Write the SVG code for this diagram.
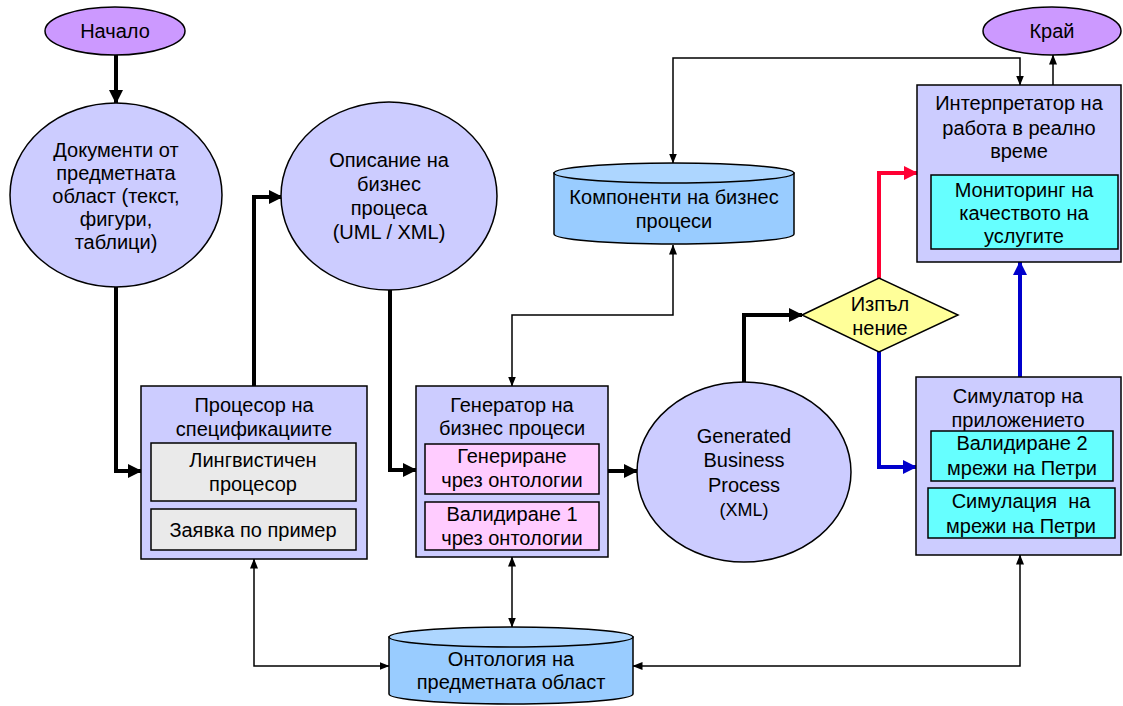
<svg xmlns="http://www.w3.org/2000/svg" width="1123" height="706" viewBox="0 0 1123 706">
<defs>
<style>
text{font-family:"Liberation Sans",Arial,sans-serif;font-size:20px;fill:#000;text-anchor:middle}
.sm{font-size:18px}
.node{stroke:#000;stroke-width:1.5}
.lav{fill:#CCCCFF}
.pur{fill:#CC99FF}
.gray{fill:#EAEAEA}
.pink{fill:#FFCCFF}
.cyan{fill:#66FFFF}
.cyl{fill:#99CCFF}
.cyltop{fill:#ADD6FF}
.dia{fill:#FFFF99}
.thick{fill:none;stroke:#000;stroke-width:4;marker-end:url(#ak)}
.red{fill:none;stroke:#FF0033;stroke-width:4;marker-end:url(#ar)}
.blue{fill:none;stroke:#0000CC;stroke-width:4;marker-end:url(#ab)}
.thin{fill:none;stroke:#000;stroke-width:1.5;marker-end:url(#at)}
.both{marker-start:url(#at)}
</style>
<marker id="ak" markerUnits="userSpaceOnUse" markerWidth="14" markerHeight="14" refX="13" refY="7" orient="auto"><path d="M0,0 L14,7 L0,14 Z" fill="#000"/></marker>
<marker id="ar" markerUnits="userSpaceOnUse" markerWidth="14" markerHeight="14" refX="13" refY="7" orient="auto"><path d="M0,0 L14,7 L0,14 Z" fill="#FF0033"/></marker>
<marker id="ab" markerUnits="userSpaceOnUse" markerWidth="14" markerHeight="14" refX="13" refY="7" orient="auto"><path d="M0,0 L14,7 L0,14 Z" fill="#0000CC"/></marker>
<marker id="at" markerUnits="userSpaceOnUse" markerWidth="10" markerHeight="8" refX="9.5" refY="4" orient="auto-start-reverse"><path d="M0,0 L10,4 L0,8 Z" fill="#000"/></marker>
</defs>
<rect width="1123" height="706" fill="#fff"/>

<g id="connectors">
<path class="thick" d="M116,55 V103"/>
<path class="thick" d="M116,287 V471 H141"/>
<path class="thick" d="M254,386 V197 H282"/>
<path class="thick" d="M390,290 V470 H416"/>
<path class="thick" d="M608,471 H637"/>
<path class="thick" d="M744,382 V315 H802"/>
<path class="red" d="M879,278 V173 H917"/>
<path class="blue" d="M879,352 V467 H916"/>
<path class="blue" d="M1020,377 V262"/>
<path class="thin" d="M1053,85 V55"/>
<path class="thin both" d="M673,163 V58 H1020 V85"/>
<path class="thin both" d="M673,245 V315 H512 V386"/>
<path class="thin both" d="M254,559 V666 H389"/>
<path class="thin both" d="M512,557 V627"/>
<path class="thin both" d="M1020,555 V666 H633"/>
</g>

<g id="start">
<ellipse class="node pur" cx="115" cy="31" rx="70" ry="24"/>
<text x="115" y="38">Начало</text>
</g>

<g id="end">
<ellipse class="node pur" cx="1052" cy="31" rx="69" ry="24"/>
<text x="1052" y="38">Край</text>
</g>

<g id="documents">
<ellipse class="node lav" cx="116" cy="195" rx="106" ry="92"/>
<text x="116" y="157">Документи от</text>
<text x="116" y="180">предметната</text>
<text x="116" y="203">област (текст,</text>
<text x="116" y="226">фигури,</text>
<text x="116" y="249">таблици)</text>
</g>

<g id="description">
<ellipse class="node lav" cx="389" cy="196" rx="108" ry="94"/>
<text x="389" y="167">Описание на</text>
<text x="389" y="191">бизнес</text>
<text x="389" y="215">процеса</text>
<text x="389" y="239">(UML / XML)</text>
</g>

<g id="spec-processor">
<rect class="node lav" x="141" y="386" width="226" height="173"/>
<text x="254" y="412">Процесор на</text>
<text x="254" y="436">спецификациите</text>
<rect class="node gray" x="151" y="443" width="205" height="58"/>
<text x="253" y="467">Лингвистичен</text>
<text x="253" y="491">процесор</text>
<rect class="node gray" x="151" y="509" width="205" height="41"/>
<text x="253" y="537">Заявка по пример</text>
</g>

<g id="bp-generator">
<rect class="node lav" x="416" y="386" width="192" height="171"/>
<text x="512" y="412">Генератор на</text>
<text x="512" y="435">бизнес процеси</text>
<rect class="node pink" x="425" y="444" width="174" height="50"/>
<text x="512" y="463">Генериране</text>
<text x="512" y="487">чрез онтологии</text>
<rect class="node pink" x="425" y="502" width="174" height="48"/>
<text x="512" y="521">Валидиране 1</text>
<text x="512" y="545">чрез онтологии</text>
</g>

<g id="generated">
<ellipse class="node lav" cx="744" cy="472" rx="107" ry="90"/>
<text x="744" y="443">Generated</text>
<text x="744" y="467">Business</text>
<text x="744" y="492">Process</text>
<text class="sm" x="744" y="516">(XML)</text>
</g>

<g id="components">
<path class="node cyl" d="M554,173 V234 A120,10 0 0 0 794,234 V173 Z"/>
<ellipse class="node cyltop" cx="674" cy="173" rx="120" ry="10"/>
<text x="674" y="204">Компоненти на бизнес</text>
<text x="674" y="228">процеси</text>
</g>

<g id="execution">
<polygon class="node dia" points="802,315 879,278 958,315 879,352"/>
<text x="880" y="311">Изпъл</text>
<text x="880" y="335">нение</text>
</g>

<g id="interpreter">
<rect class="node lav" x="917" y="85" width="204" height="177"/>
<text x="1019" y="110">Интерпретатор на</text>
<text x="1019" y="135">работа в реално</text>
<text x="1019" y="158">време</text>
<rect class="node cyan" x="931" y="175" width="187" height="74"/>
<text x="1024" y="197">Мониторинг на</text>
<text x="1024" y="220">качеството на</text>
<text x="1024" y="243">услугите</text>
</g>

<g id="simulator">
<rect class="node lav" x="916" y="377" width="205" height="178"/>
<text x="1018" y="403">Симулатор на</text>
<text x="1018" y="427">приложението</text>
<rect class="node cyan" x="931" y="431" width="182" height="50"/>
<text x="1022" y="450">Валидиране 2</text>
<text x="1022" y="475">мрежи на Петри</text>
<rect class="node cyan" x="928" y="488" width="187" height="50"/>
<text x="1021" y="508" xml:space="preserve">Симулация  на</text>
<text x="1021" y="533">мрежи на Петри</text>
</g>

<g id="ontology">
<path class="node cyl" d="M389,637 V694 A122,10 0 0 0 633,694 V637 Z"/>
<ellipse class="node cyltop" cx="511" cy="637" rx="122" ry="10"/>
<text x="511" y="666">Онтология на</text>
<text x="511" y="689">предметната област</text>
</g>
</svg>
